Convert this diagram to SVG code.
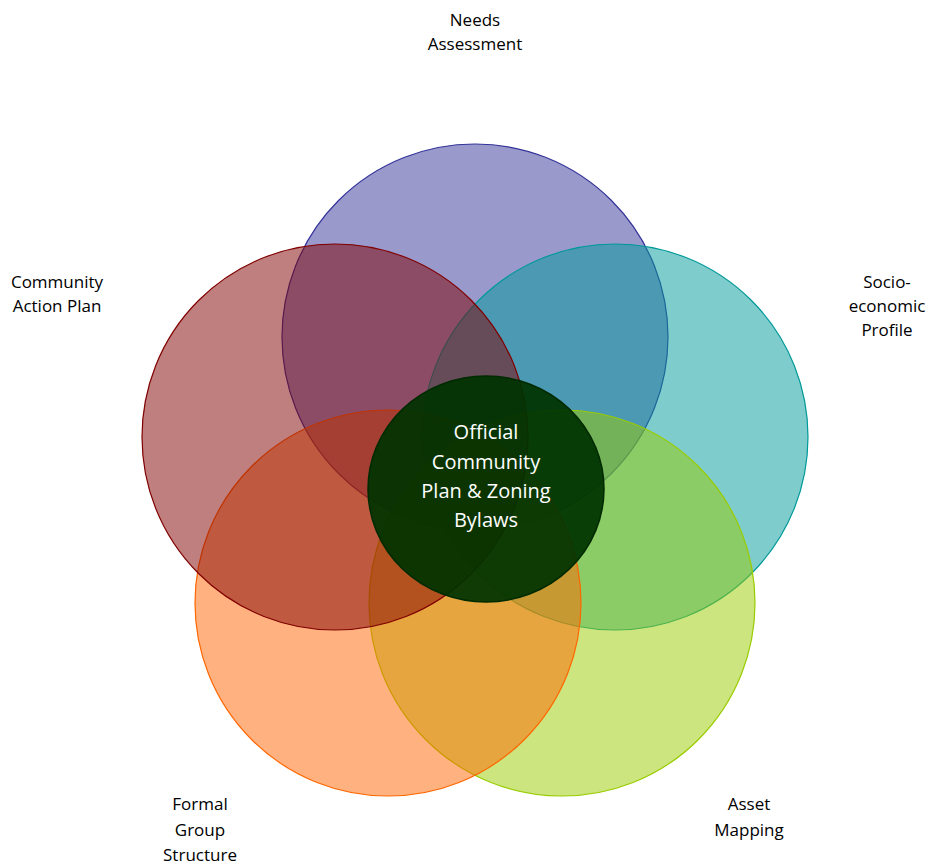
<svg xmlns="http://www.w3.org/2000/svg" width="928" height="865" viewBox="0 0 928 865">
<style>
.c{fill-opacity:0.5;stroke-width:1.2}
.lbl{font-family:"Open Sans","Liberation Sans",sans-serif;font-size:17px;fill:#000000;text-anchor:middle}
.ctr{font-family:"Open Sans","Liberation Sans",sans-serif;font-size:20px;fill:#ffffff;text-anchor:middle}
</style>
<rect width="928" height="865" fill="#ffffff"/>
<g id="needs">
<circle class="c" cx="475" cy="337" r="193" fill="#333399" stroke="#333399"/>
<text class="lbl" x="475" y="26">Needs</text>
<text class="lbl" x="475" y="50">Assessment</text>
</g>
<g id="socio">
<circle class="c" cx="615" cy="437" r="193" fill="#009999" stroke="#009999"/>
<text class="lbl" x="887" y="288">Socio-</text>
<text class="lbl" x="887" y="312">economic</text>
<text class="lbl" x="887" y="336">Profile</text>
</g>
<g id="asset">
<circle class="c" cx="562" cy="603" r="193" fill="#99CC00" stroke="#99CC00"/>
<text class="lbl" x="749" y="810">Asset</text>
<text class="lbl" x="749" y="836">Mapping</text>
</g>
<g id="formal">
<circle class="c" cx="388" cy="603" r="193" fill="#FF6600" stroke="#FF6600"/>
<text class="lbl" x="200" y="810">Formal</text>
<text class="lbl" x="200" y="836">Group</text>
<text class="lbl" x="200" y="861">Structure</text>
</g>
<g id="action">
<circle class="c" cx="335" cy="437" r="193" fill="#800000" stroke="#800000"/>
<text class="lbl" x="57" y="288">Community</text>
<text class="lbl" x="57" y="312">Action Plan</text>
</g>
<g id="center">
<ellipse cx="486" cy="489" rx="118" ry="113" fill="#003300" fill-opacity="0.93" stroke="#002a00" stroke-width="1.5"/>
<text class="ctr" x="486" y="439">Official</text>
<text class="ctr" x="486" y="469">Community</text>
<text class="ctr" x="486" y="498">Plan &amp; Zoning</text>
<text class="ctr" x="486" y="527">Bylaws</text>
</g>
<g id="connectors"/>
</svg>
